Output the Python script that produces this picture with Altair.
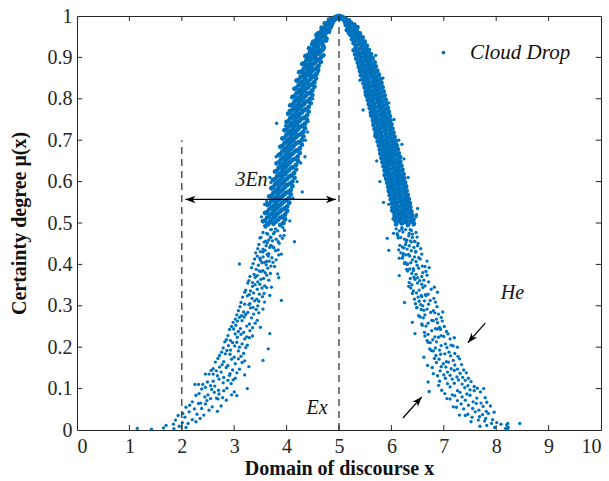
import altair as alt
import pandas as pd

# ---------------- cloud drops ----------------
# dense upper part of the cloud (mu >= 0.5)
dense_left_x = [
    4.93, 4.97, 5.00, 5.03, 5.07, 4.95, 5.05, 4.99, 5.01, 4.91, 5.09, 4.96, 5.04,
    4.81, 4.85, 4.86, 4.90, 4.88,
    4.73, 4.77, 4.79, 4.85, 4.86,
    4.67, 4.70, 4.75, 4.77, 4.83, 4.84,
    4.60, 4.66, 4.68, 4.74, 4.76, 4.81,
    4.57, 4.59, 4.65, 4.67, 4.73, 4.76,
    4.51, 4.57, 4.60, 4.66, 4.68, 4.75,
    4.49, 4.52, 4.58, 4.60, 4.67, 4.70,
    4.43, 4.50, 4.53, 4.59, 4.61, 4.68, 4.71,
    4.41, 4.45, 4.51, 4.53, 4.60, 4.63, 4.70,
    4.36, 4.43, 4.46, 4.53, 4.55, 4.62, 4.66,
    4.34, 4.38, 4.45, 4.47, 4.54, 4.57, 4.65,
    4.30, 4.37, 4.41, 4.47, 4.50, 4.58, 4.61,
    4.29, 4.33, 4.40, 4.43, 4.49, 4.52, 4.60,
    4.24, 4.32, 4.36, 4.43, 4.45, 4.52, 4.57,
    4.23, 4.27, 4.35, 4.37, 4.45, 4.48, 4.56,
    4.19, 4.27, 4.31, 4.38, 4.41, 4.49, 4.53,
    4.19, 4.23, 4.31, 4.34, 4.41, 4.44, 4.53,
    4.15, 4.23, 4.27, 4.34, 4.36, 4.44, 4.49,
    4.15, 4.19, 4.27, 4.29, 4.36, 4.40, 4.49,
    4.11, 4.19, 4.23, 4.30, 4.33, 4.41, 4.45,
    4.11, 4.15, 4.23, 4.26, 4.33, 4.36, 4.46,
    4.07, 4.15, 4.19, 4.26, 4.29, 4.37, 4.42,
    4.07, 4.11, 4.19, 4.22, 4.29, 4.33, 4.42,
    4.03, 4.11, 4.15, 4.22, 4.25, 4.34, 4.39,
    4.04, 4.07, 4.15, 4.18, 4.25, 4.29, 4.39,
    4.00, 4.08, 4.12, 4.19, 4.21, 4.30, 4.35,
    4.00, 4.04, 4.12, 4.15, 4.22, 4.25, 4.35,
    3.96, 4.04, 4.08, 4.15, 4.18, 4.27, 4.32,
    3.96, 4.00, 4.08, 4.11, 4.18, 4.22, 4.32,
    3.92, 4.00, 4.04, 4.11, 4.14, 4.23, 4.29,
    3.92, 3.96, 4.04, 4.07, 4.14, 4.18, 4.29,
    3.88, 3.96, 4.00, 4.07, 4.11, 4.19, 4.25,
    3.88, 3.92, 4.00, 4.04, 4.11, 4.15, 4.25,
    3.85, 3.93, 3.97, 4.04, 4.07, 4.16, 4.21,
    3.85, 3.89, 3.97, 4.00, 4.07, 4.11, 4.22,
    3.81, 3.89, 3.93, 4.00, 4.04, 4.12, 4.18,
    3.81, 3.85, 3.93, 3.97, 4.04, 4.08, 4.18,
    3.78, 3.86, 3.90, 3.97, 4.00, 4.09, 4.14,
    3.78, 3.82, 3.90, 3.93, 4.01, 4.05, 4.15,
    3.74, 3.82, 3.86, 3.94, 3.97, 4.06, 4.11,
    3.74, 3.78, 3.86, 3.90, 3.97, 4.01, 4.11,
    3.71, 3.79, 3.83, 3.90, 3.94, 4.03, 4.08,
    3.71, 3.75, 3.83, 3.86, 3.94, 3.98, 4.08,
    3.67, 3.75, 3.79, 3.87, 3.90, 3.99, 4.04,
    3.67, 3.71, 3.79, 3.83, 3.91, 3.95, 4.05,
    3.63, 3.71, 3.76, 3.83, 3.87, 3.96, 4.01,
    3.63, 3.67, 3.75, 3.79, 3.87, 3.91, 4.01,
    3.59, 3.67, 3.72, 3.79, 3.83, 3.92, 3.97,
    3.59, 3.63, 3.71, 3.76, 3.83, 3.87, 3.97,
    3.55, 3.63, 3.68, 3.75, 3.79, 3.88, 3.94,
]
dense_left_mu = [
    0.997, 0.999, 1.000, 0.999, 0.997, 0.994, 0.995, 0.996, 0.993, 0.992, 0.992, 0.998, 0.998,
    0.991, 0.987, 0.993, 0.989, 0.984,
    0.982, 0.979, 0.984, 0.976, 0.980,
    0.972, 0.967, 0.974, 0.969, 0.971, 0.976,
    0.958, 0.963, 0.957, 0.965, 0.960, 0.962,
    0.954, 0.947, 0.952, 0.949, 0.951, 0.945,
    0.938, 0.943, 0.940, 0.944, 0.936, 0.941,
    0.932, 0.925, 0.934, 0.928, 0.933, 0.927,
    0.922, 0.919, 0.925, 0.916, 0.921, 0.917, 0.923,
    0.906, 0.913, 0.908, 0.914, 0.909, 0.912, 0.905,
    0.903, 0.897, 0.905, 0.898, 0.902, 0.895, 0.901,
    0.886, 0.893, 0.888, 0.895, 0.887, 0.892, 0.889,
    0.884, 0.877, 0.882, 0.878, 0.883, 0.875, 0.880,
    0.866, 0.873, 0.868, 0.874, 0.867, 0.871, 0.869,
    0.864, 0.857, 0.862, 0.858, 0.863, 0.855, 0.860,
    0.846, 0.853, 0.848, 0.855, 0.847, 0.852, 0.849,
    0.844, 0.837, 0.842, 0.838, 0.843, 0.835, 0.840,
    0.826, 0.833, 0.828, 0.834, 0.827, 0.832, 0.829,
    0.824, 0.817, 0.822, 0.818, 0.823, 0.815, 0.820,
    0.806, 0.813, 0.808, 0.814, 0.807, 0.812, 0.809,
    0.804, 0.797, 0.802, 0.798, 0.803, 0.795, 0.800,
    0.786, 0.793, 0.788, 0.794, 0.787, 0.792, 0.789,
    0.784, 0.777, 0.782, 0.778, 0.783, 0.775, 0.780,
    0.766, 0.773, 0.768, 0.774, 0.767, 0.772, 0.769,
    0.764, 0.757, 0.762, 0.758, 0.763, 0.755, 0.760,
    0.746, 0.753, 0.748, 0.754, 0.747, 0.752, 0.749,
    0.744, 0.737, 0.742, 0.738, 0.743, 0.735, 0.740,
    0.726, 0.733, 0.728, 0.734, 0.727, 0.732, 0.729,
    0.724, 0.717, 0.722, 0.718, 0.723, 0.715, 0.720,
    0.706, 0.713, 0.708, 0.714, 0.707, 0.712, 0.709,
    0.704, 0.697, 0.702, 0.698, 0.703, 0.695, 0.700,
    0.686, 0.693, 0.688, 0.694, 0.687, 0.692, 0.689,
    0.684, 0.677, 0.682, 0.678, 0.683, 0.675, 0.680,
    0.666, 0.673, 0.668, 0.674, 0.667, 0.672, 0.669,
    0.664, 0.657, 0.662, 0.658, 0.663, 0.655, 0.660,
    0.646, 0.653, 0.648, 0.654, 0.647, 0.652, 0.649,
    0.644, 0.637, 0.642, 0.638, 0.643, 0.635, 0.640,
    0.626, 0.633, 0.628, 0.634, 0.627, 0.632, 0.629,
    0.624, 0.617, 0.622, 0.618, 0.623, 0.615, 0.620,
    0.606, 0.613, 0.608, 0.614, 0.607, 0.612, 0.609,
    0.604, 0.597, 0.602, 0.598, 0.603, 0.595, 0.600,
    0.586, 0.593, 0.588, 0.594, 0.587, 0.592, 0.589,
    0.584, 0.577, 0.582, 0.578, 0.583, 0.575, 0.580,
    0.566, 0.573, 0.568, 0.574, 0.567, 0.572, 0.569,
    0.564, 0.557, 0.562, 0.558, 0.563, 0.555, 0.560,
    0.546, 0.553, 0.548, 0.554, 0.547, 0.552, 0.549,
    0.544, 0.537, 0.542, 0.538, 0.543, 0.535, 0.540,
    0.526, 0.533, 0.528, 0.534, 0.527, 0.532, 0.529,
    0.524, 0.517, 0.522, 0.518, 0.523, 0.515, 0.520,
    0.506, 0.513, 0.508, 0.514, 0.507, 0.512, 0.509,
    0.504, 0.497, 0.502, 0.498, 0.503, 0.495, 0.500,
]
dense_right_x = [
    5.19, 5.15, 5.13, 5.11, 5.12,
    5.29, 5.23, 5.20, 5.17, 5.13,
    5.35, 5.29, 5.26, 5.23, 5.17, 5.15,
    5.40, 5.34, 5.31, 5.28, 5.22, 5.19,
    5.45, 5.39, 5.36, 5.33, 5.27, 5.22,
    5.49, 5.43, 5.39, 5.36, 5.30, 5.25,
    5.53, 5.46, 5.43, 5.40, 5.33, 5.28,
    5.57, 5.50, 5.46, 5.43, 5.37, 5.32, 5.28,
    5.61, 5.54, 5.50, 5.46, 5.41, 5.35, 5.31,
    5.64, 5.57, 5.53, 5.49, 5.44, 5.38, 5.33,
    5.68, 5.60, 5.56, 5.52, 5.47, 5.41, 5.36,
    5.70, 5.63, 5.58, 5.55, 5.49, 5.43, 5.38,
    5.73, 5.65, 5.61, 5.57, 5.52, 5.46, 5.40,
    5.76, 5.68, 5.63, 5.59, 5.54, 5.48, 5.42,
    5.79, 5.71, 5.66, 5.62, 5.56, 5.50, 5.45,
    5.81, 5.73, 5.68, 5.64, 5.58, 5.52, 5.47,
    5.83, 5.75, 5.70, 5.66, 5.60, 5.54, 5.49,
    5.85, 5.77, 5.72, 5.68, 5.63, 5.56, 5.51,
    5.87, 5.79, 5.74, 5.70, 5.65, 5.58, 5.53,
    5.89, 5.81, 5.76, 5.72, 5.66, 5.60, 5.55,
    5.91, 5.83, 5.78, 5.74, 5.68, 5.62, 5.57,
    5.93, 5.85, 5.80, 5.76, 5.70, 5.64, 5.59,
    5.95, 5.87, 5.82, 5.78, 5.72, 5.66, 5.61,
    5.97, 5.89, 5.84, 5.80, 5.74, 5.68, 5.63,
    5.98, 5.91, 5.86, 5.82, 5.76, 5.70, 5.65,
    6.00, 5.93, 5.88, 5.83, 5.78, 5.72, 5.66,
    6.02, 5.95, 5.89, 5.85, 5.79, 5.74, 5.68,
    6.04, 5.97, 5.91, 5.87, 5.81, 5.75, 5.70,
    6.06, 5.99, 5.93, 5.89, 5.83, 5.77, 5.72,
    6.08, 6.01, 5.95, 5.90, 5.85, 5.79, 5.74,
    6.10, 6.03, 5.97, 5.92, 5.87, 5.81, 5.76,
    6.12, 6.04, 5.99, 5.94, 5.89, 5.83, 5.78,
    6.14, 6.06, 6.01, 5.96, 5.90, 5.85, 5.79,
    6.16, 6.08, 6.02, 5.97, 5.92, 5.86, 5.81,
    6.17, 6.10, 6.04, 5.99, 5.94, 5.88, 5.83,
    6.19, 6.12, 6.06, 6.01, 5.95, 5.90, 5.85,
    6.21, 6.13, 6.08, 6.03, 5.97, 5.92, 5.87,
    6.23, 6.15, 6.10, 6.05, 5.99, 5.93, 5.88,
    6.24, 6.17, 6.12, 6.06, 6.01, 5.95, 5.90,
    6.26, 6.19, 6.14, 6.08, 6.03, 5.97, 5.92,
    6.28, 6.21, 6.15, 6.10, 6.04, 5.99, 5.94,
    6.29, 6.23, 6.17, 6.12, 6.06, 6.00, 5.95,
    6.31, 6.25, 6.19, 6.13, 6.08, 6.02, 5.97,
    6.33, 6.27, 6.21, 6.15, 6.10, 6.04, 5.99,
    6.35, 6.28, 6.23, 6.17, 6.11, 6.06, 6.01,
    6.36, 6.30, 6.25, 6.19, 6.13, 6.07, 6.02,
    6.38, 6.32, 6.27, 6.21, 6.15, 6.09, 6.04,
    6.40, 6.34, 6.28, 6.22, 6.17, 6.11, 6.06,
    6.42, 6.36, 6.30, 6.24, 6.18, 6.13, 6.07,
    6.43, 6.38, 6.32, 6.26, 6.20, 6.14, 6.09,
]
dense_right_mu = [
    0.989, 0.986, 0.992, 0.988, 0.984,
    0.979, 0.983, 0.976, 0.982, 0.978,
    0.973, 0.967, 0.972, 0.969, 0.974, 0.966,
    0.958, 0.963, 0.957, 0.961, 0.964, 0.959,
    0.948, 0.953, 0.946, 0.952, 0.949, 0.954,
    0.938, 0.943, 0.936, 0.942, 0.939, 0.944,
    0.928, 0.933, 0.926, 0.932, 0.929, 0.934,
    0.918, 0.923, 0.916, 0.922, 0.919, 0.924, 0.917,
    0.908, 0.913, 0.906, 0.912, 0.909, 0.914, 0.907,
    0.898, 0.903, 0.896, 0.902, 0.899, 0.904, 0.897,
    0.888, 0.893, 0.886, 0.892, 0.889, 0.894, 0.887,
    0.878, 0.883, 0.876, 0.882, 0.879, 0.884, 0.877,
    0.868, 0.873, 0.866, 0.872, 0.869, 0.874, 0.867,
    0.858, 0.863, 0.856, 0.862, 0.859, 0.864, 0.857,
    0.848, 0.853, 0.846, 0.852, 0.849, 0.854, 0.847,
    0.838, 0.843, 0.836, 0.842, 0.839, 0.844, 0.837,
    0.828, 0.833, 0.826, 0.832, 0.829, 0.834, 0.827,
    0.818, 0.823, 0.816, 0.822, 0.819, 0.824, 0.817,
    0.808, 0.813, 0.806, 0.812, 0.809, 0.814, 0.807,
    0.798, 0.803, 0.796, 0.802, 0.799, 0.804, 0.797,
    0.788, 0.793, 0.786, 0.792, 0.789, 0.794, 0.787,
    0.778, 0.783, 0.776, 0.782, 0.779, 0.784, 0.777,
    0.768, 0.773, 0.766, 0.772, 0.769, 0.774, 0.767,
    0.758, 0.763, 0.756, 0.762, 0.759, 0.764, 0.757,
    0.748, 0.753, 0.746, 0.752, 0.749, 0.754, 0.747,
    0.738, 0.743, 0.736, 0.742, 0.739, 0.744, 0.737,
    0.728, 0.733, 0.726, 0.732, 0.729, 0.734, 0.727,
    0.718, 0.723, 0.716, 0.722, 0.719, 0.724, 0.717,
    0.708, 0.713, 0.706, 0.712, 0.709, 0.714, 0.707,
    0.698, 0.703, 0.696, 0.702, 0.699, 0.704, 0.697,
    0.688, 0.693, 0.686, 0.692, 0.689, 0.694, 0.687,
    0.678, 0.683, 0.676, 0.682, 0.679, 0.684, 0.677,
    0.668, 0.673, 0.666, 0.672, 0.669, 0.674, 0.667,
    0.658, 0.663, 0.656, 0.662, 0.659, 0.664, 0.657,
    0.648, 0.653, 0.646, 0.652, 0.649, 0.654, 0.647,
    0.638, 0.643, 0.636, 0.642, 0.639, 0.644, 0.637,
    0.628, 0.633, 0.626, 0.632, 0.629, 0.634, 0.627,
    0.618, 0.623, 0.616, 0.622, 0.619, 0.624, 0.617,
    0.608, 0.613, 0.606, 0.612, 0.609, 0.614, 0.607,
    0.598, 0.603, 0.596, 0.602, 0.599, 0.604, 0.597,
    0.588, 0.593, 0.586, 0.592, 0.589, 0.594, 0.587,
    0.578, 0.583, 0.576, 0.582, 0.579, 0.584, 0.577,
    0.568, 0.573, 0.566, 0.572, 0.569, 0.574, 0.567,
    0.558, 0.563, 0.556, 0.562, 0.559, 0.564, 0.557,
    0.548, 0.553, 0.546, 0.552, 0.549, 0.554, 0.547,
    0.538, 0.543, 0.536, 0.542, 0.539, 0.544, 0.537,
    0.528, 0.533, 0.526, 0.532, 0.529, 0.534, 0.527,
    0.518, 0.523, 0.516, 0.522, 0.519, 0.524, 0.517,
    0.508, 0.513, 0.506, 0.512, 0.509, 0.514, 0.507,
    0.498, 0.503, 0.496, 0.502, 0.499, 0.504, 0.497,
]

# sparser lower tails and stray drops
tail_left_x = [
    3.81, 4.40, 4.35, 3.68, 4.30, 4.44,
    3.58, 3.79, 3.66, 3.93, 3.71,
    3.83, 3.55, 3.70, 3.62, 3.96, 3.77,
    3.64, 3.51, 3.88, 3.75, 3.69,
    3.80, 3.60, 3.49, 3.73, 3.92, 3.66,
    3.57, 3.70, 3.86, 3.47, 4.15, 3.63,
    3.74, 3.45, 3.61, 3.84, 3.68, 3.55,
    3.50, 3.66, 3.79, 3.41, 3.59, 3.90,
    3.63, 3.72, 3.44, 3.55, 3.85,
    3.39, 3.58, 3.80, 3.67, 3.49, 3.62,
    3.53, 3.70, 3.36, 3.46, 3.10, 3.61,
    3.64, 3.42, 3.77, 3.55, 3.33,
    3.48, 3.38, 3.59, 3.69, 3.52, 3.83,
    3.30, 3.56, 3.44, 3.85, 3.62, 3.40,
    3.51, 3.35, 3.66, 3.45, 3.28,
    3.40, 3.58, 3.26, 3.71, 3.49, 3.35,
    3.62, 3.31, 3.44, 3.22, 3.53,
    3.37, 3.48, 3.20, 3.68, 3.57, 3.29,
    3.25, 3.43, 3.54, 3.34, 3.16,
    3.47, 3.13, 3.90, 3.30, 3.39, 3.58,
    3.20, 3.36, 3.45, 3.11, 3.28,
    3.42, 3.08, 3.31, 3.18, 3.55,
    3.26, 3.14, 3.37, 3.05, 3.47, 3.22,
    3.33, 3.02, 3.19, 3.44, 3.10,
    3.15, 3.29, 2.98, 3.40, 3.06,
    3.24, 3.50, 3.03, 3.12, 2.95, 3.35,
    2.99, 3.18, 3.30, 3.08, 2.91,
    3.13, 2.88, 3.68, 3.24, 3.02, 3.35,
    3.06, 2.93, 3.20, 2.85, 3.29,
    2.97, 3.15, 2.82, 3.25, 3.05,
    2.89, 3.65, 3.10, 2.79, 3.01, 3.22,
    3.08, 2.76, 2.93, 3.18, 2.86,
    2.83, 3.00, 2.72, 3.13, 2.92,
    2.95, 3.55, 2.69, 2.80, 3.08, 3.20,
    2.64, 2.88, 3.02, 2.77, 3.15,
    2.85, 2.60, 3.28, 2.97, 2.72, 3.10,
    2.56, 2.92, 2.75, 3.05, 2.66,
    2.45, 2.52, 2.60, 2.68, 2.80, 2.91, 3.02, 3.20,
    2.71, 2.49, 2.88, 2.60, 2.98,
    2.25, 2.32, 2.40, 2.63, 2.79, 2.55, 2.94,
    2.45, 2.70, 3.25, 2.57, 2.86, 2.38,
    2.62, 2.33, 2.80, 2.50, 3.00, 2.71,
    2.27, 2.55, 2.44, 2.78, 3.05, 2.66, 2.95,
    2.48, 2.20, 2.69, 2.36, 2.85,
    2.32, 2.58, 2.15, 2.75, 2.45,
    2.24, 2.52, 2.08, 2.68, 2.38,
    2.14, 2.42, 2.02, 2.29,
    2.06, 2.35, 1.93, 2.20,
    1.88, 2.12, 2.27, 2.01,
    1.70, 1.95, 1.84, 2.08,
    1.15, 1.42, 1.65, 1.85,
]
tail_left_mu = [
    0.741, 0.720, 0.660, 0.610, 0.575, 0.790,
    0.493, 0.486, 0.495, 0.489, 0.484,
    0.481, 0.477, 0.484, 0.475, 0.482, 0.478,
    0.473, 0.465, 0.469, 0.474, 0.466,
    0.461, 0.456, 0.464, 0.457, 0.463, 0.459,
    0.454, 0.446, 0.451, 0.448, 0.455, 0.452,
    0.442, 0.438, 0.445, 0.435, 0.441, 0.437,
    0.431, 0.426, 0.433, 0.428, 0.434, 0.425,
    0.424, 0.416, 0.420, 0.418, 0.423,
    0.413, 0.405, 0.411, 0.408, 0.415, 0.407,
    0.404, 0.396, 0.402, 0.398, 0.401, 0.399,
    0.391, 0.388, 0.395, 0.385, 0.392,
    0.384, 0.376, 0.380, 0.378, 0.383, 0.377,
    0.371, 0.366, 0.373, 0.368, 0.374, 0.369,
    0.364, 0.356, 0.362, 0.358, 0.361,
    0.351, 0.348, 0.355, 0.345, 0.352, 0.347,
    0.344, 0.336, 0.340, 0.338, 0.343,
    0.331, 0.328, 0.333, 0.325, 0.330, 0.327,
    0.324, 0.316, 0.322, 0.318, 0.321,
    0.311, 0.308, 0.313, 0.305, 0.312, 0.309,
    0.304, 0.296, 0.300, 0.298, 0.303,
    0.291, 0.288, 0.295, 0.285, 0.292,
    0.284, 0.276, 0.280, 0.278, 0.283, 0.279,
    0.271, 0.268, 0.273, 0.265, 0.272,
    0.264, 0.256, 0.260, 0.258, 0.263,
    0.251, 0.248, 0.253, 0.245, 0.250, 0.247,
    0.244, 0.236, 0.240, 0.238, 0.243,
    0.231, 0.228, 0.233, 0.225, 0.232, 0.227,
    0.224, 0.216, 0.220, 0.218, 0.223,
    0.211, 0.208, 0.213, 0.205, 0.212,
    0.204, 0.196, 0.200, 0.198, 0.203, 0.199,
    0.191, 0.188, 0.193, 0.185, 0.192,
    0.184, 0.176, 0.180, 0.178, 0.183,
    0.171, 0.168, 0.173, 0.165, 0.172, 0.167,
    0.164, 0.156, 0.160, 0.158, 0.163,
    0.151, 0.148, 0.153, 0.145, 0.152, 0.147,
    0.144, 0.136, 0.140, 0.138, 0.143,
    0.135, 0.135, 0.135, 0.131, 0.127, 0.132, 0.125, 0.133,
    0.123, 0.116, 0.120, 0.118, 0.121,
    0.110, 0.110, 0.110, 0.106, 0.114, 0.107, 0.112,
    0.103, 0.096, 0.100, 0.098, 0.101, 0.099,
    0.091, 0.088, 0.095, 0.085, 0.092, 0.087,
    0.084, 0.076, 0.080, 0.078, 0.083, 0.077, 0.085,
    0.071, 0.068, 0.075, 0.065, 0.072,
    0.064, 0.056, 0.060, 0.058, 0.063,
    0.051, 0.048, 0.055, 0.045, 0.052,
    0.044, 0.036, 0.040, 0.038,
    0.031, 0.028, 0.035, 0.025,
    0.024, 0.016, 0.020, 0.018,
    0.011, 0.009, 0.014, 0.006,
    0.004, 0.002, 0.005, 0.003,
]
tail_right_x = [
    5.46, 5.78, 5.72, 6.20, 6.18, 5.85,
    6.31, 6.09, 6.42, 6.20, 6.36,
    6.15, 6.47, 6.27, 6.04, 6.38, 6.22,
    6.40, 6.18, 6.33, 6.11, 6.49,
    6.25, 6.44, 6.13, 6.36, 5.92, 6.29,
    6.38, 6.16, 6.51, 6.27, 6.45,
    6.21, 6.56, 6.34, 6.14, 6.43, 6.30,
    6.47, 6.23, 6.38, 6.18, 5.95, 6.58,
    6.33, 6.52, 6.22, 6.44, 6.28,
    6.55, 6.26, 6.40, 6.68, 6.21, 6.47,
    6.37, 6.59, 6.25, 6.49, 6.31,
    6.52, 6.29, 6.64, 6.42, 6.72, 6.35,
    6.31, 6.47, 6.60, 6.39, 6.66,
    6.58, 6.36, 6.15, 6.50, 6.68, 6.43,
    6.45, 6.34, 6.62, 6.71, 6.54,
    6.39, 6.64, 6.50, 6.82, 6.58, 6.33,
    6.60, 6.42, 6.76, 6.53, 6.37,
    6.48, 6.70, 6.88, 6.57, 6.40, 6.65,
    6.66, 6.44, 6.58, 6.81, 6.51,
    6.53, 6.25, 6.74, 6.46, 6.63, 6.84,
    6.71, 6.49, 6.60, 6.87, 6.56,
    6.57, 6.80, 6.48, 6.98, 6.68, 6.62,
    6.75, 6.52, 6.90, 6.64, 6.83,
    6.61, 6.86, 6.55, 6.77, 6.95,
    6.80, 6.58, 6.40, 6.70, 6.97, 6.88,
    6.66, 6.92, 6.59, 6.84, 7.01,
    6.88, 6.63, 6.77, 7.05, 6.94,
    6.70, 6.95, 6.45, 6.83, 7.08, 6.64,
    6.90, 6.68, 7.12, 6.79, 7.20, 7.00,
    6.74, 7.03, 6.86, 7.14, 6.70,
    6.95, 6.73, 7.26, 6.84, 7.18, 7.06,
    6.80, 7.10, 6.92, 7.21, 6.76,
    7.02, 6.62, 6.85, 7.27, 6.94, 7.13,
    6.91, 7.18, 6.82, 7.05, 7.30,
    7.09, 6.69, 6.99, 7.34, 6.86, 7.21,
    6.78, 7.14, 6.95, 7.38, 7.04, 7.26,
    7.20, 6.80, 7.07, 7.43, 6.93, 7.31,
    6.88, 7.25, 7.00, 7.47, 7.12, 7.36,
    7.16, 6.70, 7.41, 6.92, 7.28, 7.52, 7.03,
    7.35, 6.90, 7.20, 7.58, 7.07, 7.46,
    6.72, 7.12, 6.96, 7.40, 7.26, 7.64, 7.50, 7.76,
    7.31, 7.02, 7.58, 7.16, 7.70, 7.44,
    7.50, 7.06, 7.35, 7.79, 7.21, 7.63,
    7.26, 7.56, 7.12, 7.71, 7.41, 7.82,
    7.62, 7.18, 7.47, 7.89, 7.33, 7.75,
    7.38, 7.67, 7.24, 7.81, 7.55,
    7.60, 7.30, 7.85, 7.46, 7.96, 7.74,
    7.54, 7.80, 7.41, 7.93, 7.68,
    7.66, 7.91, 7.52, 8.01, 7.78,
    7.82, 7.69, 8.09, 7.97, 8.20, 8.22,
    8.18, 8.21, 8.23, 8.45,
]
tail_right_mu = [
    0.773, 0.600, 0.650, 0.690, 0.660, 0.550,
    0.493, 0.486, 0.495, 0.489, 0.484,
    0.481, 0.477, 0.484, 0.475, 0.482, 0.478,
    0.473, 0.465, 0.469, 0.474, 0.466,
    0.461, 0.456, 0.464, 0.457, 0.463, 0.459,
    0.454, 0.446, 0.451, 0.448, 0.455,
    0.442, 0.438, 0.445, 0.435, 0.441, 0.437,
    0.431, 0.426, 0.433, 0.428, 0.434, 0.425,
    0.424, 0.416, 0.420, 0.418, 0.423,
    0.413, 0.405, 0.411, 0.408, 0.415, 0.407,
    0.404, 0.396, 0.402, 0.398, 0.401,
    0.391, 0.388, 0.395, 0.385, 0.392, 0.389,
    0.384, 0.376, 0.380, 0.378, 0.383,
    0.371, 0.366, 0.373, 0.368, 0.374, 0.369,
    0.364, 0.356, 0.362, 0.358, 0.361,
    0.351, 0.348, 0.355, 0.345, 0.352, 0.347,
    0.344, 0.336, 0.340, 0.338, 0.343,
    0.331, 0.328, 0.333, 0.325, 0.330, 0.327,
    0.324, 0.316, 0.322, 0.318, 0.321,
    0.311, 0.308, 0.313, 0.305, 0.312, 0.309,
    0.304, 0.296, 0.300, 0.298, 0.303,
    0.291, 0.288, 0.295, 0.285, 0.292, 0.289,
    0.284, 0.276, 0.280, 0.278, 0.283,
    0.271, 0.268, 0.273, 0.265, 0.272,
    0.264, 0.256, 0.260, 0.258, 0.263, 0.259,
    0.251, 0.248, 0.253, 0.245, 0.250,
    0.244, 0.236, 0.240, 0.238, 0.243,
    0.231, 0.228, 0.233, 0.225, 0.232, 0.227,
    0.224, 0.216, 0.220, 0.218, 0.223, 0.226,
    0.211, 0.208, 0.213, 0.205, 0.212,
    0.204, 0.196, 0.200, 0.198, 0.203, 0.199,
    0.191, 0.188, 0.193, 0.185, 0.192,
    0.184, 0.176, 0.180, 0.178, 0.183, 0.179,
    0.171, 0.168, 0.173, 0.165, 0.172,
    0.164, 0.156, 0.160, 0.158, 0.163, 0.157,
    0.151, 0.148, 0.153, 0.145, 0.152, 0.147,
    0.144, 0.136, 0.140, 0.138, 0.143, 0.137,
    0.131, 0.128, 0.133, 0.125, 0.132, 0.127,
    0.123, 0.116, 0.120, 0.118, 0.121, 0.117, 0.125,
    0.111, 0.108, 0.113, 0.105, 0.112, 0.107,
    0.093, 0.104, 0.096, 0.102, 0.095, 0.101, 0.097, 0.100,
    0.091, 0.088, 0.095, 0.085, 0.092, 0.087,
    0.084, 0.076, 0.080, 0.078, 0.083, 0.077,
    0.071, 0.068, 0.075, 0.065, 0.072, 0.067,
    0.064, 0.056, 0.060, 0.058, 0.063, 0.057,
    0.051, 0.048, 0.055, 0.045, 0.052,
    0.044, 0.036, 0.040, 0.038, 0.043, 0.037,
    0.031, 0.028, 0.035, 0.025, 0.032,
    0.024, 0.016, 0.020, 0.018, 0.022,
    0.011, 0.009, 0.014, 0.006, 0.012, 0.016,
    0.004, 0.001, 0.006, 0.016,
]
# speckled drops along the band edges and around mu = 0.5
edge_x = [
    4.30, 4.20, 4.05, 3.98, 3.80, 3.70, 3.62, 3.52, 3.58,
    4.60, 4.52, 4.50, 4.41, 4.36, 4.27, 4.20, 4.12, 3.99, 4.06,
    3.60, 3.95, 3.70, 3.84, 3.76, 3.55, 3.65, 3.50, 3.74,
    5.70, 5.84, 5.95, 6.05, 6.14, 6.24, 6.32, 6.48, 6.47, 6.50,
    5.40, 5.50, 5.60, 5.68, 5.86, 5.95, 6.03, 6.00,
    6.20, 6.34, 6.28, 6.40, 6.24, 6.35, 6.46, 6.30, 6.42, 6.15, 6.50, 6.12,
]
edge_mu = [
    0.885, 0.842, 0.772, 0.735, 0.660, 0.598, 0.552, 0.515, 0.545,
    0.865, 0.840, 0.800, 0.745, 0.700, 0.645, 0.600, 0.560, 0.525, 0.505,
    0.490, 0.470, 0.465, 0.455, 0.440, 0.430, 0.420, 0.410, 0.405,
    0.905, 0.850, 0.790, 0.750, 0.700, 0.655, 0.610, 0.520, 0.515, 0.535,
    0.845, 0.810, 0.760, 0.710, 0.615, 0.545, 0.510, 0.530,
    0.485, 0.475, 0.455, 0.465, 0.440, 0.420, 0.430, 0.400, 0.390, 0.415, 0.445, 0.470,
]

# ---------------- axes / annotations ----------------
x_ticks = [0, 1, 2, 3, 4, 5, 6, 7, 8, 9, 10]
y_ticks = [0, 0.1, 0.2, 0.3, 0.4, 0.5, 0.6, 0.7, 0.8, 0.9, 1]

dash_x = [5, 2]
dash_top = [1.0, 0.7]

shaft_x = [2.07, 7.79, 6.22]
shaft_y = [0.557, 0.258, 0.029]
shaft_x2 = [4.94, 7.46, 6.58]
shaft_y2 = [0.557, 0.211, 0.080]

head_x = [2.07, 4.94, 7.46, 6.58]
head_y = [0.557, 0.557, 0.211, 0.080]
head_angle = [180, 0, 131, 312]

label_text = ["3En", "Ex", "He"]
label_x = [3.33, 4.58, 8.31]
label_y = [0.604, 0.053, 0.331]

series_name = "Cloud Drop"

# ---------------- build ----------------
FONT = "Liberation Serif"
AX = "#262626"
BLUE = "#0072BD"

dense = pd.DataFrame({"x": dense_left_x + dense_right_x,
                      "mu": dense_left_mu + dense_right_mu})
dense["series"] = series_name
tail = pd.DataFrame({"x": tail_left_x + tail_right_x + edge_x,
                     "mu": tail_left_mu + tail_right_mu + edge_mu})
tail["series"] = series_name

xs = alt.Scale(domain=[0, 10], nice=False, zero=False)
ys = alt.Scale(domain=[0, 1], nice=False, zero=False)

x_axis = alt.Axis(values=x_ticks, format="d", title="Domain of discourse x",
                  ticks=False, domain=False, grid=False, labelPadding=6,
                  titlePadding=2)
y_axis = alt.Axis(values=y_ticks, format="~g", title="Certainty degree  μ(x)",
                  ticks=False, domain=False, grid=False, labelPadding=5,
                  titlePadding=18)

X = lambda f="x": alt.X(f"{f}:Q", scale=xs, axis=x_axis)
Y = lambda f="mu": alt.Y(f"{f}:Q", scale=ys, axis=y_axis)

color_enc = alt.Color(
    "series:N", scale=alt.Scale(range=[BLUE]),
    legend=alt.Legend(title=None, orient="none", legendX=356, legendY=26,
                      labelFont=FONT, labelFontStyle="italic",
                      labelFontSize=21, labelColor="#111111",
                      symbolType="circle", symbolSize=14,
                      symbolStrokeWidth=0, labelOffset=16, padding=0))

dense_pts = alt.Chart(dense).mark_point(filled=True, size=24, opacity=1, strokeWidth=0).encode(
    x=X(), y=Y(), color=color_enc)
tail_pts = alt.Chart(tail).mark_point(filled=True, size=11, opacity=1, strokeWidth=0).encode(
    x=X(), y=Y(), color=color_enc)

# tick marks (inward), drawn as short rules in data units
bx = pd.DataFrame({"x": x_ticks[1:-1]})
bx["y0"], bx["y1"], bx["t0"], bx["t1"] = 0.0, 0.012, 1.0, 0.988
ly = pd.DataFrame({"mu": y_ticks[1:-1]})
ly["a0"], ly["a1"], ly["b0"], ly["b1"] = 0.0, 0.1, 10.0, 9.9

tick_style = dict(color=AX, strokeWidth=1)
ticks = alt.layer(
    alt.Chart(bx).mark_rule(**tick_style).encode(x=X(), y=Y("y0"), y2="y1:Q"),
    alt.Chart(bx).mark_rule(**tick_style).encode(x=X(), y=Y("t0"), y2="t1:Q"),
    alt.Chart(ly).mark_rule(**tick_style).encode(y=Y(), x=X("a0"), x2="a1:Q"),
    alt.Chart(ly).mark_rule(**tick_style).encode(y=Y(), x=X("b0"), x2="b1:Q"),
)

dash_df = pd.DataFrame({"x": dash_x, "y0": [0.0, 0.0], "y1": dash_top})
dashes = alt.Chart(dash_df).mark_rule(color="#3a3a3a", strokeWidth=1.3, strokeDash=[7, 5]).encode(
    x=X(), y=Y("y0"), y2="y1:Q")

shaft_df = pd.DataFrame({"x": shaft_x, "mu": shaft_y, "x2": shaft_x2, "y2": shaft_y2})
shafts = alt.Chart(shaft_df).mark_rule(color="#000000", strokeWidth=1.3).encode(
    x=X(), y=Y(), x2="x2:Q", y2="y2:Q")

head_df = pd.DataFrame({"x": head_x, "mu": head_y, "ang": head_angle})
heads = alt.Chart(head_df).mark_point(
    shape="M 0 0 L -2 -0.75 L -1.45 0 L -2 0.75 Z", filled=True, color="#000000",
    size=100, opacity=1, strokeWidth=0).encode(
    x=X(), y=Y(), angle=alt.Angle("ang:Q", scale=None))

lab_df = pd.DataFrame({"x": label_x, "mu": label_y, "t": label_text})
labels = alt.Chart(lab_df).mark_text(font=FONT, fontStyle="italic", fontSize=20,
                                     color="#111111", align="center", baseline="middle").encode(
    x=X(), y=Y(), text="t:N")

chart = alt.layer(dense_pts, tail_pts, dashes, shafts, heads, labels, ticks).properties(
    width=524, height=414,
    padding={"left": 77, "top": 16, "right": 8, "bottom": 51},
    autosize=alt.AutoSizeParams(type="none"),
).configure(font=FONT, background="white").configure_view(
    stroke=AX, strokeWidth=1
).configure_axis(
    labelFont=FONT, labelFontSize=20, labelColor=AX,
    titleFont=FONT, titleFontSize=20, titleFontWeight="bold", titleColor="#111111",
)

chart.save("out.html", embed_options={"renderer": "svg", "actions": False})
